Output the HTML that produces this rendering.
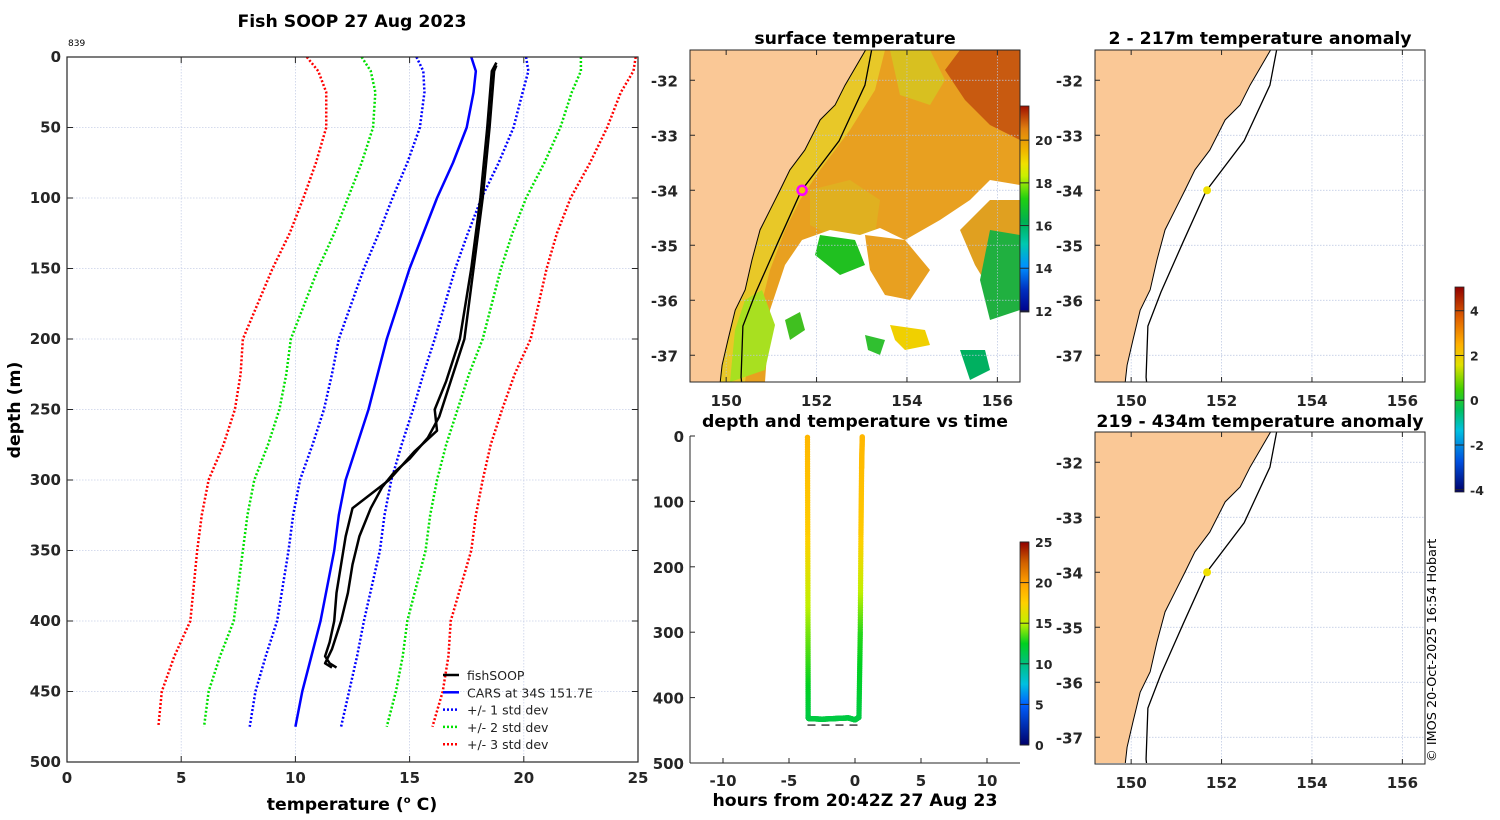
<!DOCTYPE html>
<html><head><meta charset="utf-8"><style>
html,body{margin:0;padding:0;background:#fff;}
svg{display:block;font-family:"DejaVu Sans","Liberation Sans",sans-serif;}
.tk{font-size:15px;font-weight:bold;fill:#262626;}
.tt{font-size:17.3px;font-weight:bold;fill:#000;}
</style></head><body>
<svg id="s" width="1500" height="820" viewBox="0 0 1500 820" xmlns="http://www.w3.org/2000/svg">
<defs>
<clipPath id="c1"><rect x="67" y="57" width="571" height="705"/></clipPath>
<clipPath id="cm1"><rect x="690" y="50" width="330" height="332"/></clipPath>
<clipPath id="cm2"><rect x="1095" y="50" width="330" height="332"/></clipPath>
<clipPath id="cm3"><rect x="1095" y="432" width="330" height="331"/></clipPath>
<linearGradient id="gsst" x1="0" y1="1" x2="0" y2="0">
<stop offset="0" stop-color="#00008a"/><stop offset="0.11" stop-color="#0030c0"/><stop offset="0.22" stop-color="#0090ff"/><stop offset="0.33" stop-color="#00c8b0"/><stop offset="0.44" stop-color="#00b050"/><stop offset="0.55" stop-color="#20d010"/><stop offset="0.66" stop-color="#c8f000"/><stop offset="0.72" stop-color="#f0e000"/><stop offset="0.78" stop-color="#f0b800"/><stop offset="0.89" stop-color="#e08010"/><stop offset="1" stop-color="#a01000"/>
</linearGradient>
<linearGradient id="gt" x1="0" y1="1" x2="0" y2="0">
<stop offset="0" stop-color="#00006a"/><stop offset="0.2" stop-color="#0060ff"/><stop offset="0.3" stop-color="#00c0e0"/><stop offset="0.4" stop-color="#00c080"/><stop offset="0.5" stop-color="#00d020"/><stop offset="0.6" stop-color="#c0f000"/><stop offset="0.7" stop-color="#ffd000"/><stop offset="0.8" stop-color="#ffa000"/><stop offset="0.9" stop-color="#d06000"/><stop offset="1" stop-color="#900000"/>
</linearGradient>
<linearGradient id="ga" x1="0" y1="1" x2="0" y2="0">
<stop offset="0" stop-color="#00006a"/><stop offset="0.15" stop-color="#0050e0"/><stop offset="0.3" stop-color="#00c0e0"/><stop offset="0.4" stop-color="#00c060"/><stop offset="0.5" stop-color="#40d000"/><stop offset="0.62" stop-color="#e0e000"/><stop offset="0.72" stop-color="#ffb000"/><stop offset="0.85" stop-color="#e06000"/><stop offset="1" stop-color="#900000"/>
</linearGradient>
</defs>
<g id="root"></g>
</svg>
<script>
// ---- profile data ----
const cDepth=[0,10,25,50,75,100,125,150,175,200,225,250,275,300,325,350,375,400,425,450,475];
const cMean=[17.7,17.9,17.8,17.5,16.9,16.2,15.6,15.0,14.5,14.0,13.6,13.2,12.7,12.2,11.9,11.7,11.4,11.1,10.7,10.3,10.0];
const cStd=[2.4,2.3,2.15,2.05,2.0,1.95,1.95,2.0,2.05,2.1,2.0,1.95,1.95,2.0,2.0,2.0,1.95,1.9,2.0,2.05,2.0];
const dnDepth=[4,10,50,100,150,200,230,250,265,280,300,310,320,340,360,380,400,415,425,430,433];
const dnTemp=[18.8,18.6,18.4,18.1,17.7,17.2,16.6,16.1,16.2,15.2,14.1,13.3,12.5,12.2,12.0,11.8,11.7,11.5,11.3,11.5,11.8];
const upDepth=[433,430,420,400,380,360,340,320,305,295,285,270,255,230,200,150,100,50,10,6];
const upTemp=[11.6,11.3,11.6,12.0,12.3,12.5,12.8,13.3,13.8,14.3,15.0,15.8,16.3,16.8,17.4,17.8,18.2,18.5,18.7,18.8];
const xTicks=[0,5,10,15,20,25];
const yTicks=[0,50,100,150,200,250,300,350,400,450,500];
// ---- time-series data (hours, depth, temp) ----
const trTime=[-3.6,-3.58,-3.56,-3.55,-3.5,-2.5,-1.5,-0.5,0.0,0.3,0.4,0.45,0.5,0.55];
const trDepth=[2,150,300,430,432,433,432,431,434,430,300,150,50,0];
const trTemp=[18.8,17.7,14.1,11.6,11.6,11.6,11.6,11.6,11.6,11.6,13.0,17.8,18.5,18.8];
// ---- map data ----
const lonTicks=[150,152,154,156];
const latTicks=[-32,-33,-34,-35,-36,-37];
const coastLon=[153.12,152.63,152.41,152.08,151.74,151.41,151.19,150.97,150.75,150.57,150.42,150.2,150.04,149.91,149.86];
const coastLat=[-31.4,-32.09,-32.45,-32.72,-33.27,-33.63,-34.0,-34.36,-34.72,-35.27,-35.81,-36.18,-36.72,-37.18,-37.55];
const shelfLon=[153.23,153.07,152.5,151.66,151.15,150.66,150.37,150.33,150.35];
const shelfLat=[-31.4,-32.09,-33.1,-34.01,-34.94,-35.85,-36.47,-37.4,-37.55];
const stnLon=151.68, stnLat=-34.0;
const sstTicks=[12,14,16,18,20];
const anoTicks=[4,2,0,-2,-4];
const tcbTicks=[0,5,10,15,20,25];

const NS="http://www.w3.org/2000/svg";
const root=document.getElementById('root');
function el(tag,attrs,parent,txt){const e=document.createElementNS(NS,tag);for(const k in attrs)e.setAttribute(k,attrs[k]);if(txt!==undefined)e.textContent=txt;(parent||root).appendChild(e);return e;}

// ===== profile panel =====
const px=t=>67+t*(571/25), py=d=>57+d*(705/500);
const gP=el('g',{});

xTicks.forEach(t=>{const l=el('line',{x1:px(t),x2:px(t),y1:57,y2:762,stroke:'#c8d0e8','stroke-width':0.8,'stroke-dasharray':'1.5,1.5'},gP);});
yTicks.forEach(t=>{const l=el('line',{x1:67,x2:638,y1:py(t),y2:py(t),stroke:'#c8d0e8','stroke-width':0.8,'stroke-dasharray':'1.5,1.5'},gP);});
const cl=el('g',{'clip-path':'url(#c1)'},gP);
function poly(ts,ds,stroke,w,dash,name){const p=el('polyline',{points:ts.map((t,i)=>px(t)+','+py(ds[i])).join(' '),fill:'none',stroke:stroke,'stroke-width':w,'stroke-dasharray':dash||'none','stroke-linejoin':'round'},cl);}
const sdCol={1:'#0000ff',2:'#00e000',3:'#ff0000'};
[3,2,1].forEach(k=>{
  poly(cMean.map((m,i)=>m-k*cStd[i]),cDepth,sdCol[k],2.5,'2,2','minus-'+k+'-std-line');
  poly(cMean.map((m,i)=>m+k*cStd[i]),cDepth,sdCol[k],2.5,'2,2','plus-'+k+'-std-line');
});
poly(cMean,cDepth,'#0000ff',2.5,null,'cars-mean-line');
poly(dnTemp,dnDepth,'#000',2.5,null,'fishsoop-down-line');
poly(upTemp,upDepth,'#000',2.5,null,'fishsoop-up-line');
el('rect',{x:67,y:57,width:571,height:705,fill:'none',stroke:'#262626','stroke-width':1.2},gP);
xTicks.forEach(t=>{el('line',{x1:px(t),x2:px(t),y1:57,y2:63,stroke:'#262626'},gP);el('line',{x1:px(t),x2:px(t),y1:762,y2:756,stroke:'#262626'},gP);
 const tx=el('text',{x:px(t),y:783,'text-anchor':'middle',class:'tk'},gP,String(t));});
yTicks.forEach(t=>{el('line',{x1:67,x2:73,y1:py(t),y2:py(t),stroke:'#262626'},gP);el('line',{x1:638,x2:632,y1:py(t),y2:py(t),stroke:'#262626'},gP);
 const tx=el('text',{x:61,y:py(t)+5,'text-anchor':'end',class:'tk'},gP,String(t));});
let t1=el('text',{x:352,y:27,'text-anchor':'middle',class:'tt'},gP,'Fish SOOP 27 Aug 2023');
let t2=el('text',{x:68,y:46,'font-size':'9px',fill:'#000'},gP,'839');
let t3=el('text',{x:352,y:810,'text-anchor':'middle',class:'tt'},gP);
el('tspan',{},t3,'temperature (');el('tspan',{'font-size':'10px',dy:'-7'},t3,'o');el('tspan',{dy:'7'},t3,' C)');
let t4=el('text',{x:20,y:410,'text-anchor':'middle',class:'tt',transform:'rotate(-90 20 410)'},gP,'depth (m)');
// legend
const lg=el('g',{},gP);
[['fishSOOP','#000',null],['CARS at 34S 151.7E','#0000ff',null],['+/- 1 std dev','#0000ff','2,2'],['+/- 2 std dev','#00e000','2,2'],['+/- 3 std dev','#ff0000','2,2']].forEach((e,i)=>{
 const y=675+i*17.3;const g=el('g',{},lg);
 el('line',{x1:443,x2:459,y1:y,y2:y,stroke:e[1],'stroke-width':2.5,'stroke-dasharray':e[2]||'none'},g);
 el('text',{x:467,y:y+5,'font-size':'12.5px',fill:'#222'},g,e[0]);});

// ===== map helpers =====
function mapFns(x0,y0){return {mx:lon=>x0+(lon-149.2)*45.2, my:lat=>y0+(-31.45-lat)*55.0};}
function drawMap(x0,y0,clip,name,sst){
 const {mx,my}=mapFns(x0,y0);const W=330,H=332;
 const g=el('g',{});
 const c=el('g',{'clip-path':'url(#'+clip+')'},g);
 if(sst){
  el('rect',{x:x0,y:y0,width:W,height:H,fill:'#e8a020'},c);
  const o=(pts,f)=>el('polygon',{points:pts.map(p=>(x0+p[0])+','+(y0+p[1])).join(' '),fill:f},c);
  o([[270,0],[330,0],[330,90],[300,75],[275,50],[255,20]],'#c85a10');
  o([[200,0],[240,0],[255,30],[240,55],[210,45]],'#d8c020');
  o([[168,0],[195,0],[185,40],[160,80],[130,120],[110,150],[95,180],[80,220],[70,260],[60,300],[55,332],[30,332],[32,315],[38,290],[45,260],[55,240],[62,210],[70,180],[80,160],[90,140],[100,120],[115,100],[130,70],[145,55],[155,35]],'#e8c828');
  o([[120,140],[160,130],[190,150],[185,185],[150,190],[120,175]],'#e0b020');
  o([[75,332],[80,260],[95,215],[112,190],[140,180],[170,185],[190,178],[215,190],[250,170],[280,150],[300,130],[330,135],[330,332]],'#ffffff');
  o([[175,185],[215,190],[240,220],[220,250],[195,245],[180,220]],'#e8a020');
  o([[270,180],[300,150],[330,150],[330,240],[300,240],[285,215]],'#e0a020');
  o([[200,275],[235,280],[240,295],[215,300],[205,290]],'#f0d000');
  o([[40,332],[45,280],[55,250],[72,240],[85,275],[75,320]],'#a8e020');
  o([[130,185],[165,190],[175,215],[150,225],[125,205]],'#20c020');
  o([[300,180],[330,185],[330,260],[300,270],[290,230]],'#20b040');
  o([[95,270],[110,262],[115,280],[100,290]],'#40c020');
  o([[175,285],[195,290],[190,305],[178,300]],'#30c030');
  o([[270,300],[295,300],[300,320],[280,330]],'#00b060');
 } else el('rect',{x:x0,y:y0,width:W,height:H,fill:'#fff'},c);
 lonTicks.forEach(l=>el('line',{x1:mx(l),x2:mx(l),y1:y0,y2:y0+H,stroke:'#b8c4e0','stroke-width':0.7,'stroke-dasharray':'1.5,1.5'},c));
 latTicks.forEach(l=>el('line',{x1:x0,x2:x0+W,y1:my(l),y2:my(l),stroke:'#b8c4e0','stroke-width':0.7,'stroke-dasharray':'1.5,1.5'},c));
 const cpts=coastLon.map((l,i)=>mx(l)+','+my(coastLat[i]));
 const land=el('polygon',{points:[x0+','+(y0-5)].concat(cpts).concat([x0+','+(y0+H+5)]).join(' '),fill:'#fac896',stroke:'#000','stroke-width':1},c);
 
 const sh=el('polyline',{points:shelfLon.map((l,i)=>mx(l)+','+my(shelfLat[i])).join(' '),fill:'none',stroke:'#000','stroke-width':1.3},c);
 
 const dot=el('circle',{cx:mx(stnLon),cy:my(stnLat),r:sst?4.5:4,fill:sst?'#f0c000':'#f0e000',stroke:sst?'#ff00ff':'none','stroke-width':2.5},c);
 
 lonTicks.forEach(l=>{el('line',{x1:mx(l),x2:mx(l),y1:y0+H,y2:y0+H-5,stroke:'#262626'},g);el('line',{x1:mx(l),x2:mx(l),y1:y0,y2:y0+5,stroke:'#262626'},g);
  const t=el('text',{x:mx(l),y:y0+H+24,'text-anchor':'middle',class:'tk'},g,String(l));});
 latTicks.forEach(l=>{el('line',{x1:x0,x2:x0+5,y1:my(l),y2:my(l),stroke:'#262626'},g);
  const t=el('text',{x:x0-12,y:my(l)+6,'text-anchor':'end',class:'tk'},g,String(l));});
 el('rect',{x:x0,y:y0,width:W,height:H,fill:'none',stroke:'#262626','stroke-width':1},g);
 return g;
}
const m1=drawMap(690,50,'cm1','sst-map',true);
let tt=el('text',{x:855,y:44,'text-anchor':'middle',class:'tt'},m1,'surface temperature');
const m2=drawMap(1095,50,'cm2','anomaly-map-shallow',false);
tt=el('text',{x:1260,y:44,'text-anchor':'middle',class:'tt'},m2,'2 - 217m temperature anomaly');
const m3=drawMap(1095,432,'cm3','anomaly-map-deep',false);
tt=el('text',{x:1260,y:427,'text-anchor':'middle',class:'tt'},m3,'219 - 434m temperature anomaly');

// colorbars
function cbar(x,y0,y1,v0,v1,ticks,grad,name){
 const g=el('g',{});
 el('rect',{x:x,y:y0,width:9,height:y1-y0,fill:'url(#'+grad+')',stroke:'#262626','stroke-width':0.8},g);
 ticks.forEach(v=>{const y=y1-(v-v0)/(v1-v0)*(y1-y0);el('line',{x1:x,x2:x+9,y1:y,y2:y,stroke:'#262626'},g);
  const t=el('text',{x:x+15,y:y+5,'font-size':'12.5px','font-weight':'bold',fill:'#262626'},g,String(v));});
}
cbar(1020,106,312,11.95,21.6,sstTicks,'gsst','sst-colorbar');
cbar(1455,287,492,-4.1,5.06,anoTicks,'ga','anomaly-colorbar');
cbar(1020,542,745,0,25,tcbTicks,'gt','time-colorbar');

// ===== time panel =====
const tx=h=>690+(h+12.5)*13.2, ty=d=>436+d*0.654;
const gT=el('g',{});
const tStops=[[0,[0,0,106]],[5,[0,96,255]],[7.5,[0,192,224]],[10,[0,192,128]],[12.5,[0,208,32]],[15,[192,240,0]],[17.5,[255,208,0]],[20,[255,160,0]],[22.5,[208,96,0]],[25,[144,0,0]]];
function tcol(v){for(let i=1;i<tStops.length;i++){if(v<=tStops[i][0]){const a=tStops[i-1],b=tStops[i],f=(v-a[0])/(b[0]-a[0]);return 'rgb('+a[1].map((c,k)=>Math.round(c+(b[1][k]-c)*f)).join(',')+')';}}return 'rgb(144,0,0)';}
const trk=el('g',{},gT);
for(let i=1;i<trTime.length;i++){const n=40;for(let j=0;j<n;j++){const f=j/n;
 const h=trTime[i-1]+(trTime[i]-trTime[i-1])*f,d=trDepth[i-1]+(trDepth[i]-trDepth[i-1])*f,tv=trTemp[i-1]+(trTemp[i]-trTemp[i-1])*f;
 el('circle',{cx:tx(h),cy:ty(d),r:2.7,fill:tcol(tv)},trk);}}
el('line',{x1:tx(-3.6),x2:tx(0.55),y1:ty(442),y2:ty(442),stroke:'#000','stroke-width':1.2,'stroke-dasharray':'8,6'},gT);
el('line',{x1:690,x2:690,y1:436,y2:763,stroke:'#262626'},gT);
el('line',{x1:690,x2:1020,y1:763,y2:763,stroke:'#262626'},gT);
[-10,-5,0,5,10].forEach(h=>{el('line',{x1:tx(h),x2:tx(h),y1:763,y2:758,stroke:'#262626'},gT);
 const t=el('text',{x:tx(h),y:786,'text-anchor':'middle',class:'tk'},gT,String(h));});
[0,100,200,300,400,500].forEach(d=>{el('line',{x1:690,x2:695,y1:ty(d),y2:ty(d),stroke:'#262626'},gT);
 const t=el('text',{x:684,y:ty(d)+6,'text-anchor':'end',class:'tk'},gT,String(d));});
tt=el('text',{x:855,y:427,'text-anchor':'middle',class:'tt'},gT,'depth and temperature vs time');
tt=el('text',{x:855,y:806,'text-anchor':'middle',class:'tt'},gT,'hours from 20:42Z 27 Aug 23');
tt=el('text',{x:1436,y:762,'font-size':'12.8px',fill:'#000',transform:'rotate(-90 1436 762)'},root,'© IMOS 20-Oct-2025 16:54 Hobart');
</script>
</body></html>
